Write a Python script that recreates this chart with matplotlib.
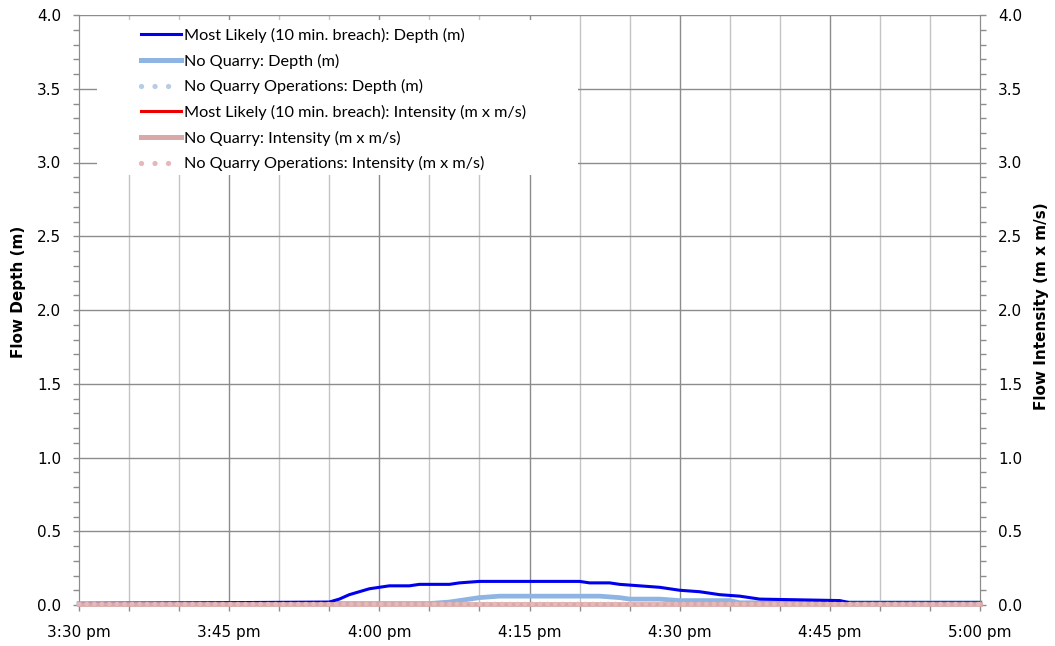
import matplotlib
matplotlib.use("Agg")
import matplotlib.pyplot as plt
from matplotlib.lines import Line2D
from matplotlib.patches import Rectangle
from matplotlib.ticker import MultipleLocator, FixedLocator, FixedFormatter

# Time in minutes after 3:30 pm
ml_minutes = [0, 25, 26, 27, 28, 29, 30, 31, 33, 34, 37, 38, 40, 50, 51, 53, 54, 56,
              58, 60, 62, 64, 66, 68, 72, 76, 77, 90]
ml_depth = [0.01, 0.02, 0.04, 0.07, 0.09, 0.11, 0.12, 0.13, 0.13, 0.14, 0.14, 0.15, 0.16,
            0.16, 0.15, 0.15, 0.14, 0.13, 0.12, 0.10, 0.09, 0.07, 0.06, 0.04, 0.035, 0.03,
            0.015, 0.015]

nq_minutes = [0, 35, 37, 39, 40, 41, 42, 52, 53, 54, 55, 58, 60, 65, 66, 90]
nq_depth = [0.01, 0.01, 0.02, 0.04, 0.05, 0.055, 0.06, 0.06, 0.055, 0.05, 0.04, 0.04,
            0.03, 0.03, 0.015, 0.015]

flat_minutes = [0, 90]
nqo_depth = [0.005, 0.005]
ml_intensity = [0.005, 0.005]
nq_intensity = [0.005, 0.005]
nqo_intensity = [0.005, 0.005]

time_ticks = [0, 15, 30, 45, 60, 75, 90]
time_labels = ["3:30 pm", "3:45 pm", "4:00 pm", "4:15 pm", "4:30 pm", "4:45 pm", "5:00 pm"]

series_labels = [
    "Most Likely (10 min. breach): Depth (m)",
    "No Quarry: Depth (m)",
    "No Quarry Operations: Depth (m)",
    "Most Likely (10 min. breach): Intensity (m x m/s)",
    "No Quarry: Intensity (m x m/s)",
    "No Quarry Operations: Intensity (m x m/s)",
]

C_ML_D = "#0000ee"
C_NQ_D = "#8db4e2"
C_NQO_D = "#b8cce4"
C_ML_I = "#ee0000"
C_NQ_I = "#d9a9a9"
C_NQO_I = "#e6b9b8"

plt.rcParams["font.family"] = ["DejaVu Sans"]

W, H = 1055, 646
fig = plt.figure(figsize=(W / 100, H / 100), dpi=100)
ax = fig.add_axes([79 / W, 1 - 605 / H, (980 - 79) / W, (605 - 15) / H])
ax2 = ax.twinx()

ax.set_xlim(0, 90)
ax.set_ylim(0, 4)
ax2.set_ylim(0, 4)

# Grid: light every 5 minutes, darker every 15 minutes and every 0.5 m
for m in range(5, 90, 5):
    dark = (m % 15 == 0)
    ax.axvline(m, color="#8c8c8c" if dark else "#c4c4c4", lw=1.0, zorder=0)
for v in [0.5, 1.0, 1.5, 2.0, 2.5, 3.0, 3.5, 4.0]:
    ax.axhline(v, color="#8c8c8c", lw=1.0, zorder=0)

spine_c = "#8c8c8c"
for a in (ax, ax2):
    for s in a.spines.values():
        s.set_color(spine_c)
    a.spines["top"].set_visible(False)

ax.xaxis.set_major_locator(FixedLocator(time_ticks))
ax.xaxis.set_major_formatter(FixedFormatter(time_labels))
ax.xaxis.set_minor_locator(MultipleLocator(5))
for a in (ax, ax2):
    a.yaxis.set_major_locator(MultipleLocator(0.5))
    a.yaxis.set_minor_locator(MultipleLocator(0.1))
    a.yaxis.set_major_formatter(plt.FormatStrFormatter("%.1f"))
    a.tick_params(axis="both", which="both", direction="out", length=4.5, width=1,
                  color=spine_c, labelsize=11, labelcolor="black")
ax.tick_params(axis="x", which="major", pad=10)
ax.tick_params(axis="y", which="major", pad=8.5)
ax2.tick_params(axis="y", which="major", pad=8.5)

ax.set_ylabel("Flow Depth (m)", fontsize=11, fontweight="bold")
ax.yaxis.set_label_coords(-0.059, 0.53)
ax2.set_ylabel("Flow Intensity (m x m/s)", fontsize=11, fontweight="bold")
ax2.yaxis.set_label_coords(1.06, 0.507)

l1, = ax.plot(ml_minutes, ml_depth, color=C_ML_D, lw=2.2, zorder=5)
l2, = ax.plot(nq_minutes, nq_depth, color=C_NQ_D, lw=3.4, zorder=4)
l3, = ax.plot(flat_minutes, nqo_depth, color=C_NQO_D, lw=3.2, zorder=4,
              linestyle=(0, (0.1, 1.6)), dash_capstyle="round")
l4, = ax2.plot(flat_minutes, ml_intensity, color=C_ML_I, lw=2.2, zorder=3)
l5, = ax2.plot(flat_minutes, nq_intensity, color=C_NQ_I, lw=3.4, zorder=4)
l6, = ax2.plot(flat_minutes, nqo_intensity, color=C_NQO_I, lw=3.2, zorder=5,
               linestyle=(0, (0.1, 1.6)), dash_capstyle="round")
for ln in (l1, l2, l3, l4, l5, l6):
    ln.set_clip_on(False)

# Legend swatches: wider dot spacing than in the plot area
dots = (0, (0.01, 2.55))
handles = [
    Line2D([], [], color=C_ML_D, lw=2.2),
    Line2D([], [], color=C_NQ_D, lw=3.6),
    Line2D([], [], color=C_NQO_D, lw=3.8, linestyle=dots, dash_capstyle="round"),
    Line2D([], [], color=C_ML_I, lw=2.2),
    Line2D([], [], color=C_NQ_I, lw=3.6),
    Line2D([], [], color=C_NQO_I, lw=3.8, linestyle=dots, dash_capstyle="round"),
]

# White panel behind the legend, hiding the grid
ax2.add_patch(Rectangle((97 / W, 1 - 175 / H), (578 - 97) / W, (175 - 20) / H,
                        transform=fig.transFigure, facecolor="white", edgecolor="none",
                        zorder=8, clip_on=False))

leg = ax2.legend(handles=handles, labels=series_labels, loc="upper left",
                 bbox_to_anchor=(141 / W, 1 - 28 / H), bbox_transform=fig.transFigure,
                 frameon=False, prop={"family": "Lato", "size": 11.7},
                 handlelength=2.45, handletextpad=0.2, labelspacing=0.65,
                 borderpad=0, borderaxespad=0)
leg.set_zorder(10)

fig.savefig("out.png", dpi=100, facecolor="white")
